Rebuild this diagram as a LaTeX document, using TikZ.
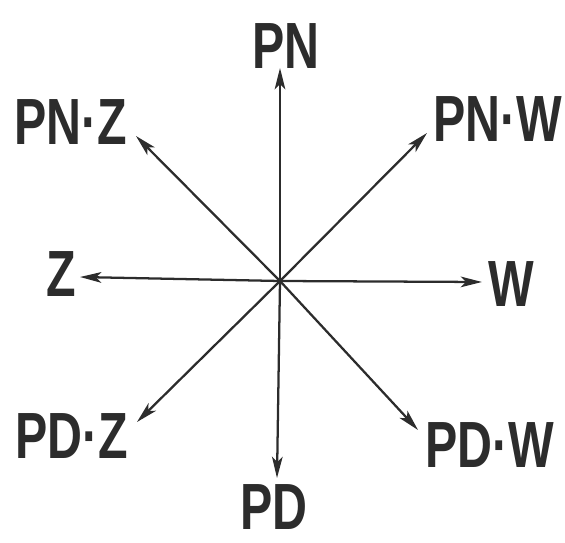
\documentclass[tikz,border=0pt]{standalone}
\usepackage{fontspec}
\usepackage{graphicx}
\setmainfont{Liberation Sans}
\usetikzlibrary{arrows.meta}
\definecolor{ink}{HTML}{2c2c2c}
\newcommand{\dirlbl}[1]{\scalebox{0.74}[1]{\bfseries #1}}
\tikzset{
  arr/.style={draw=ink, line width=1.7pt, -{Stealth[length=16pt,width=8pt,inset=4pt]}},
  lbl/.style={inner sep=0pt, text=ink, font=\fontsize{49}{49}\selectfont}
}
\begin{document}
\begin{tikzpicture}[x=0.75pt,y=-0.75pt]
\useasboundingbox (0,0) rectangle (565,543);
\coordinate (c) at (280,281);
\coordinate (tN) at (280,68);
\coordinate (tS) at (277,478);
\coordinate (tE) at (482,282);
\coordinate (tW) at (80,277);
\coordinate (tNE) at (427,133);
\coordinate (tNW) at (136,136);
\coordinate (tSW) at (137,422);
\coordinate (tSE) at (418,430);
\node[lbl] (PN) at (286,46) {\dirlbl{PN}};
\node[lbl] (PD) at (274,507) {\dirlbl{PD}};
\node[lbl] (W) at (511,284) {\dirlbl{W}};
\node[lbl] (Z) at (61,274) {\dirlbl{Z}};
\node[lbl] (PNW) at (498,119) {\dirlbl{PN·W}};
\node[lbl] (PNZ) at (71,122) {\dirlbl{PN·Z}};
\node[lbl] (PDZ) at (72,436) {\dirlbl{PD·Z}};
\node[lbl] (PDW) at (490,445) {\dirlbl{PD·W}};
\draw[arr] (c) -- (tN);
\draw[arr] (c) -- (tS);
\draw[arr] (c) -- (tE);
\draw[arr] (c) -- (tW);
\draw[arr] (c) -- (tNE);
\draw[arr] (c) -- (tNW);
\draw[arr] (c) -- (tSW);
\draw[arr] (c) -- (tSE);
\end{tikzpicture}
\end{document}
